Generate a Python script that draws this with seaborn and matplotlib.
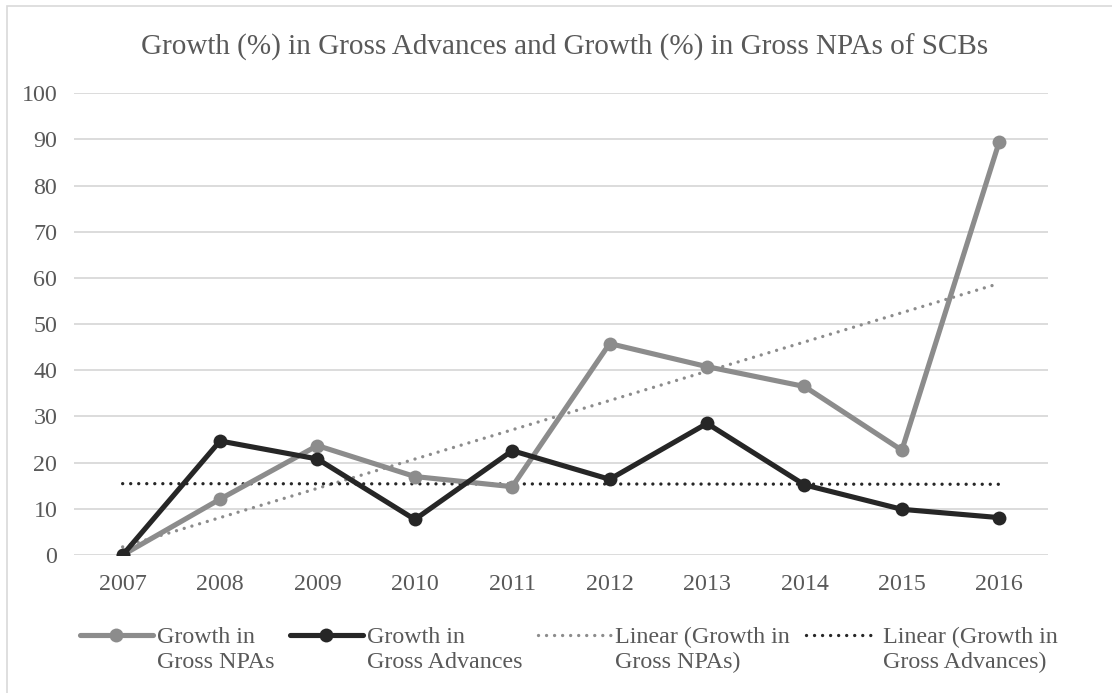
import matplotlib; matplotlib.use('Agg')
import numpy as np
import pandas as pd
import seaborn as sns
import matplotlib.pyplot as plt
from matplotlib.patches import Rectangle
from matplotlib.legend_handler import HandlerLine2D

years = ['2007', '2008', '2009', '2010', '2011', '2012', '2013', '2014', '2015', '2016']
npa_growth = [0.0, 12.1, 23.7, 17.0, 14.8, 45.8, 40.8, 36.5, 22.7, 89.5]
adv_growth = [0.0, 24.7, 20.8, 7.7, 22.6, 16.4, 28.5, 15.2, 9.9, 8.1]
y_ticks = [0, 10, 20, 30, 40, 50, 60, 70, 80, 90, 100]

title = 'Growth (%) in Gross Advances and Growth (%) in Gross NPAs of SCBs'
labels = ['Growth in\nGross NPAs', 'Growth in\nGross Advances',
          'Linear (Growth in\nGross NPAs)', 'Linear (Growth in\nGross Advances)']

gray = '#8c8c8c'
black = '#262626'
text_col = '#595959'
LSP = 1.22


# legend handle sits on the first text line, like Excel does
class TopLineHandler(HandlerLine2D):
    def create_artists(self, legend, orig_handle, xdescent, ydescent, width, height, fontsize, trans):
        arts = super().create_artists(legend, orig_handle, xdescent, ydescent, width, height, fontsize, trans)
        for a in arts:
            a.set_ydata(np.asarray(a.get_ydata()) + 0.5 * LSP * fontsize)
        return arts


sns.set_theme(style='white')
plt.rcParams['font.family'] = ['Liberation Serif', 'DejaVu Serif']

df = pd.DataFrame({'year': years, 'npa': npa_growth, 'adv': adv_growth})
idx = np.arange(len(years))
df['idx'] = idx

# linear trend lines, same as Excel's "Linear" trendline
df['npa_fit'] = np.polyval(np.polyfit(idx, npa_growth, 1), idx)
df['adv_fit'] = np.polyval(np.polyfit(idx, adv_growth, 1), idx)

fig = plt.figure(figsize=(11.12, 6.93), dpi=100)
ax = fig.add_axes([0.0665, 0.1991, 0.8759, 0.6663])

fig.patches.append(Rectangle((7 / 1112, -0.1), 1.1, 1.1 - 6 / 693, transform=fig.transFigure,
                             fill=False, edgecolor='#d9d9d9', linewidth=1.2, zorder=0))

dot = (0, (0.01, 2.4))
sns.lineplot(data=df, x='idx', y='npa', ax=ax, color=gray, linewidth=3.7,
             marker='o', markersize=10, markeredgewidth=0, label=labels[0], zorder=3)
sns.lineplot(data=df, x='idx', y='adv', ax=ax, color=black, linewidth=3.7,
             marker='o', markersize=10, markeredgewidth=0, label=labels[1], zorder=4)
sns.lineplot(data=df, x='idx', y='npa_fit', ax=ax, color=gray, linewidth=2.4,
             linestyle=dot, dash_capstyle='round', label=labels[2], zorder=2)
sns.lineplot(data=df, x='idx', y='adv_fit', ax=ax, color=black, linewidth=2.4,
             linestyle=dot, dash_capstyle='round', label=labels[3], zorder=2)

ax.set_xlim(-0.5, len(years) - 0.5)
ax.set_ylim(0, 100)
ax.set_xticks(idx)
ax.set_xticklabels(years)
ax.set_yticks(y_ticks)
ax.set_xlabel('')
ax.set_ylabel('')
ax.grid(axis='y', color='#d9d9d9', linewidth=1.3)
ax.set_axisbelow(True)
for s in ax.spines.values():
    s.set_visible(False)
ax.tick_params(axis='x', length=0, pad=14, labelsize=17.3, labelcolor=text_col)
ax.tick_params(axis='y', length=0, pad=12, labelsize=17.3, labelcolor=text_col)

fig.text(0.508, 0.932, title, ha='center', va='center', fontsize=21, color=text_col)

ax.get_legend().remove()
handles, _ = ax.get_legend_handles_labels()
leg = fig.legend(handles, labels, loc='center', bbox_to_anchor=(0.5117, 0.062), ncol=4,
                 frameon=False, fontsize=17.3, handlelength=3.0, handletextpad=0.2,
                 columnspacing=0.65, labelcolor=text_col,
                 handler_map={h: TopLineHandler() for h in handles})
for t in leg.get_texts():
    t.set_linespacing(LSP)

fig.savefig('out.png', dpi=100)
